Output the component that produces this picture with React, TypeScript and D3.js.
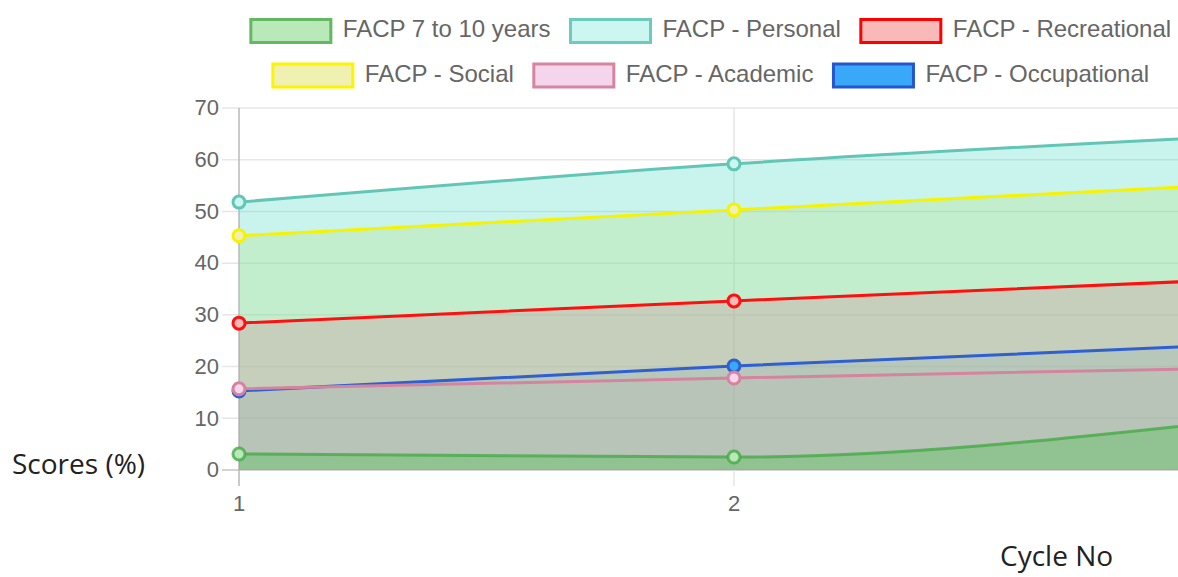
import React, { useEffect, useRef } from 'react';
import * as d3 from 'd3';

// chart values
const cycles = ['1', '2', '3'];
const yTicks = [0, 10, 20, 30, 40, 50, 60, 70];

const seriesNames = [
  'FACP 7 to 10 years',
  'FACP - Personal',
  'FACP - Recreational',
  'FACP - Social',
  'FACP - Academic',
  'FACP - Occupational',
];

const facp7to10 = [3.1, 2.5, 9.5];
const facpPersonal = [51.8, 59.2, 64.5];
const facpRecreational = [28.4, 32.7, 36.8];
const facpSocial = [45.3, 50.3, 55.2];
const facpAcademic = [15.7, 17.8, 19.7];
const facpOccupational = [15.3, 20.1, 24.2];

const seriesValues = [facp7to10, facpPersonal, facpRecreational, facpSocial, facpAcademic, facpOccupational];

// colours per series (same order as names)
const lineColors = ['rgba(70,170,70,0.8)', '#62c6b6', '#ff1010', '#f6f300', '#d4849f', '#2f5fd0'];
const areaColors = [
  'rgba(75,192,75,0.35)',
  'rgba(75,220,200,0.3)',
  'rgba(255,100,127,0.3)',
  'rgba(230,230,100,0.3)',
  'rgba(230,130,180,0.12)',
  'rgba(54,162,235,0.2)',
];
const legendFills = ['#b9e8b9', '#ccf6f0', '#f9b9b9', '#f0f0b0', '#f5d5ec', '#3aa8f8'];
const legendStrokes = ['#63b863', '#6ccbbd', '#ff0000', '#fbf600', '#d485a0', '#2456d0'];

const W = 1178;
const H = 577;
const tickFont = '"Liberation Sans", Arial, Helvetica, sans-serif';

const App: React.FC = () => {
  const svgRef = useRef<SVGSVGElement>(null);

  useEffect(() => {
    if (!svgRef.current) return;
    const svg = d3.select(svgRef.current);
    svg.selectAll('*').remove();

    const x = d3.scalePoint<string>().domain(cycles).range([239, 1229]);
    const y = d3.scaleLinear().domain([0, 70]).range([470, 108]);

    const grid = svg.append('g');
    // horizontal grid lines + ticks
    yTicks.forEach(t => {
      grid.append('line')
        .attr('x1', 222).attr('x2', W)
        .attr('y1', y(t)).attr('y2', y(t))
        .attr('stroke', t === 0 ? '#c4c4c4' : '#e6e6e6')
        .attr('stroke-width', 1.5);
      grid.append('text')
        .attr('x', 219).attr('y', y(t))
        .attr('dy', '0.33em')
        .attr('text-anchor', 'end')
        .attr('fill', '#666')
        .attr('font-family', tickFont)
        .attr('font-size', 22)
        .text(t);
    });
    // vertical grid lines (the third cycle sits past the right edge)
    cycles.filter(c => x(c)! < W).forEach((c, i) => {
      grid.append('line')
        .attr('x1', x(c)!).attr('x2', x(c)!)
        .attr('y1', y(70)).attr('y2', 486)
        .attr('stroke', i === 0 ? '#b8b8b8' : '#e6e6e6')
        .attr('stroke-width', 1.5);
      grid.append('text')
        .attr('x', x(c)!).attr('y', 511)
        .attr('text-anchor', 'middle')
        .attr('fill', '#666')
        .attr('font-family', tickFont)
        .attr('font-size', 22)
        .text(c);
    });

    const area = d3.area<number>()
      .x((d, i) => x(cycles[i])!)
      .y0(y(0))
      .y1(d => y(d))
      .curve(d3.curveMonotoneX);

    const line = d3.line<number>()
      .x((d, i) => x(cycles[i])!)
      .y(d => y(d))
      .curve(d3.curveMonotoneX);

    // first dataset drawn on top, like chart.js
    const order = d3.range(seriesValues.length).reverse();

    order.forEach(k => {
      svg.append('path')
        .datum(seriesValues[k])
        .attr('d', area)
        .attr('fill', areaColors[k]);
    });

    order.forEach(k => {
      svg.append('path')
        .datum(seriesValues[k])
        .attr('d', line)
        .attr('fill', 'none')
        .attr('stroke', lineColors[k])
        .attr('stroke-width', 3);
    });

    order.forEach(k => {
      svg.selectAll(null)
        .data(seriesValues[k])
        .enter()
        .append('circle')
        .attr('cx', (d, i) => x(cycles[i])!)
        .attr('cy', d => y(d))
        .attr('r', 6)
        .attr('fill', legendFills[k])
        .attr('stroke', lineColors[k])
        .attr('stroke-width', 3);
    });

    // legend
    const rows = [[0, 1, 2], [3, 4, 5]];
    const rowBaselines = [37, 81.5];
    const boxW = 80;
    const boxH = 23;
    const gap = 12;
    const spacing = 20;
    const legendCenter = 711;

    rows.forEach((row, r) => {
      const g = svg.append('g');
      const widths: number[] = [];
      row.forEach(k => {
        const t = g.append('text')
          .attr('font-family', tickFont)
          .attr('font-size', 24)
          .attr('fill', '#666')
          .attr('y', rowBaselines[r])
          .text(seriesNames[k]);
        widths.push((t.node() as SVGTextElement).getComputedTextLength());
      });
      const itemW = widths.map(w => boxW + gap + w);
      const total = d3.sum(itemW) + spacing * (row.length - 1);
      let cx = legendCenter - total / 2;
      g.selectAll('text').each(function (_, i) {
        const k = row[i];
        g.append('rect')
          .attr('x', cx)
          .attr('y', rowBaselines[r] - 17.5)
          .attr('width', boxW)
          .attr('height', boxH)
          .attr('fill', legendFills[k])
          .attr('stroke', legendStrokes[k])
          .attr('stroke-width', 3);
        d3.select(this).attr('x', cx + boxW + gap);
        cx += itemW[i] + spacing;
      });
    });

    // axis titles
    svg.append('text')
      .attr('x', 12).attr('y', 474)
      .attr('font-family', '"Open Sans", sans-serif')
      .attr('font-size', 28)
      .attr('fill', '#222')
      .text('Scores (%)');
    svg.append('text')
      .attr('x', 1000).attr('y', 566)
      .attr('font-family', '"Open Sans", sans-serif')
      .attr('font-size', 28)
      .attr('fill', '#222')
      .text('Cycle No');
  }, []);

  return (
    <svg
      ref={svgRef}
      width={W}
      height={H}
      style={{ position: 'absolute', left: 0, top: 0, background: '#fff' }}
    />
  );
};

export default App;
